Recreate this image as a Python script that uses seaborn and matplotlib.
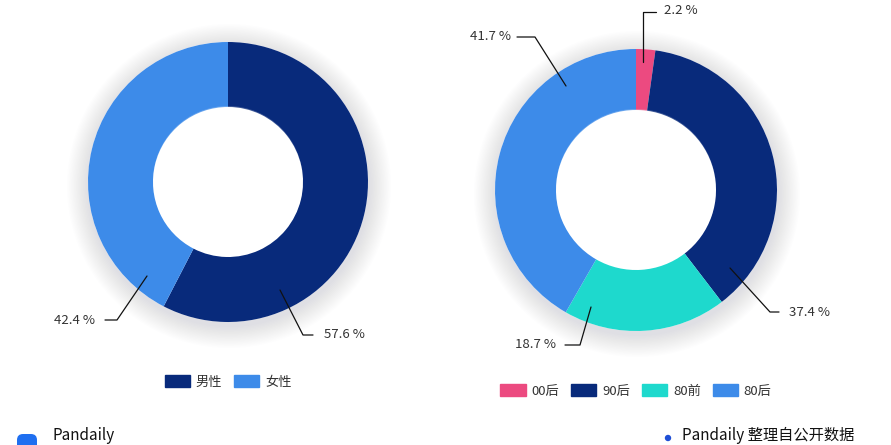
import numpy as np
import seaborn as sns
import matplotlib.pyplot as plt
from matplotlib.patches import Circle, FancyBboxPatch, Patch

# data
gender_labels = ['男性', '女性']
gender_share = [57.6, 42.4]
age_labels = ['00后', '90后', '80前', '80后']
age_share = [2.2, 37.4, 18.7, 41.7]

gender_colors = ['#082a7b', '#3d8be9']
age_colors = ['#ec4a80', '#082a7b', '#1ed9cd', '#3d8be9']

sns.set_theme(style='white')
plt.rcParams['font.family'] = ['Noto Sans CJK SC', 'DejaVu Sans']

W, H = 891, 445
fig = plt.figure(figsize=(W / 100, H / 100), dpi=100)
ax = fig.add_axes([0, 0, 1, 1])


def fy(y):
    # image y (top down) -> axes y
    return H - y


def soft_shadow(cx, cy, r_out, r_in):
    # faint glow round the ring
    for i in range(16):
        ax.add_patch(Circle((cx + 1, fy(cy) - 4), r_out + 1 + i * 1.4,
                            color='#9aa0aa', alpha=0.016, lw=0, zorder=1))
    ax.add_patch(Circle((cx, fy(cy)), r_out, color='white', lw=0, zorder=1.5))


def donut(cx, cy, r_out, r_in, values, colors):
    soft_shadow(cx, cy, r_out, r_in)
    ax.pie(values, colors=colors, startangle=90, counterclock=False,
           center=(cx, fy(cy)), radius=r_out, frame=True,
           wedgeprops=dict(width=r_out - r_in, linewidth=0, zorder=2))
    # faint inner shade in the hole
    for i in range(10):
        ax.add_patch(Circle((cx, fy(cy) + 1), r_in - i * 1.0, color='white',
                            alpha=0.22, lw=0, zorder=3))
    ax.add_patch(Circle((cx, fy(cy) + 1), r_in - 10, color='white', lw=0, zorder=3))


donut(228, 182, 140, 75, gender_share, gender_colors)
donut(636, 190, 141, 80, age_share, age_colors)
ax.set_xlim(0, W)
ax.set_ylim(0, H)
ax.set_aspect('equal')
ax.axis('off')

# leader lines: anchor, elbow, end, text position, alignment
leaders = [
    (gender_share[1], (147, 276), (117, 320), (105, 320), (95, 320), 'right'),
    (gender_share[0], (280, 290), (303, 335), (313, 335), (324, 335), 'left'),
    (age_share[0], (643, 62), (643, 12), (656, 12), (664, 11), 'left'),
    (age_share[1], (730, 268), (770, 312), (779, 312), (789, 312), 'left'),
    (age_share[2], (591, 307), (580, 345), (565, 345), (556, 345), 'right'),
    (age_share[3], (566, 86), (535, 37), (517, 37), (511, 37), 'right'),
]
for val, a, e, t, tp, ha in leaders:
    ax.plot([a[0], e[0], t[0]], [fy(a[1]), fy(e[1]), fy(t[1])],
            color='#111111', lw=0.9, zorder=5)
    ax.text(tp[0], fy(tp[1]), f'{val} %', ha=ha, va='center',
            fontsize=9.5, color='#333333', zorder=5)


def legend(labels, colors, x, y):
    handles = [Patch(facecolor=c, edgecolor=c, label=l) for l, c in zip(labels, colors)]
    lg = fig.legend(handles=handles, loc='center', bbox_to_anchor=(x / W, 1 - y / H),
                    ncol=len(labels), frameon=False, fontsize=9.5,
                    handlelength=1.9, handleheight=1.0, handletextpad=0.45,
                    columnspacing=0.9)
    for t in lg.get_texts():
        t.set_color('#333333')
    return lg


legend(gender_labels, gender_colors, 228, 382)
legend(age_labels, age_colors, 636, 391)

# footer
ax.add_patch(FancyBboxPatch((17, fy(456)), 20, 22, boxstyle='round,pad=0,rounding_size=6',
                            color='#1f6ff0', lw=0, zorder=5))
ax.text(53, fy(444), 'Pandaily', fontsize=11, color='#111111', va='bottom', ha='left')
ax.add_patch(Circle((668, fy(438)), 3.2, color='#1f4fd6', lw=0, zorder=5))
ax.text(682, fy(444), 'Pandaily 整理自公开数据', fontsize=11, color='#111111',
        va='bottom', ha='left')

fig.savefig('out.png', dpi=100)
